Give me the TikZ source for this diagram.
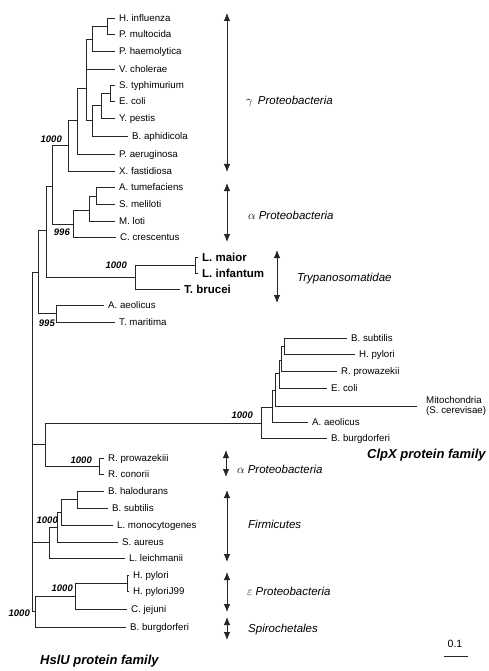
\documentclass[tikz,border=0pt]{standalone}
\usepackage{fontspec}
\setmainfont{Liberation Sans}
\usetikzlibrary{arrows.meta}
\begin{document}
\begin{tikzpicture}[x=1pt,y=-1pt,
  br/.style={line width=0.8pt, draw=black!85},
  leaf/.style={anchor=west, inner xsep=4pt, inner ysep=0pt, font=\fontsize{9.7}{10}\selectfont, text height=6.9pt, text depth=0pt},
  bleaf/.style={leaf, font=\fontsize{11.5}{12}\selectfont\bfseries, text height=8.2pt},
  mleaf/.style={anchor=west, inner xsep=9pt, inner ysep=0pt, align=left, font=\fontsize{9.7}{10}\selectfont},
  boot/.style={anchor=base east, inner sep=0pt, font=\fontsize{9.5}{10}\selectfont\bfseries\itshape},
  clade/.style={anchor=west, inner sep=0pt, font=\fontsize{11.5}{12}\selectfont\itshape, text height=8.2pt, text depth=0pt},
  cladearrow/.style={line width=0.8pt, draw=black!85, {Latex[length=8pt,width=6.5pt]}-{Latex[length=8pt,width=6.5pt]}},
  family/.style={anchor=west, inner sep=0pt, font=\fontsize{13}{14}\selectfont\bfseries\itshape}
]
\useasboundingbox (0,0) rectangle (489,671);

% ---------- internal nodes ----------
\coordinate (R) at (32,444);
\coordinate (U) at (38,272);
\coordinate (V) at (46,230);
\coordinate (GA) at (52,186);
\coordinate (G) at (68,145);
\coordinate (G1) at (77,120);
\coordinate (G2) at (86,88);
\coordinate (G3) at (92,39);
\coordinate (G4) at (107,26);
\coordinate (G5) at (92,120);
\coordinate (G6) at (101,105);
\coordinate (G7) at (110,93);
\coordinate (AL) at (73,224);
\coordinate (A1) at (89,210);
\coordinate (A2) at (96,196);
\coordinate (TR) at (135,277);
\coordinate (T1) at (195,265);
\coordinate (TH) at (56,313);
\coordinate (CR) at (45,444);
\coordinate (CX) at (261,423);
\coordinate (C5) at (272,407);
\coordinate (C4) at (275,390);
\coordinate (C3) at (279,373);
\coordinate (C2) at (281,360);
\coordinate (C1) at (284,346);
\coordinate (RK) at (99,466);
\coordinate (FI) at (49,542);
\coordinate (F1) at (57,527);
\coordinate (F2) at (61,512);
\coordinate (F3) at (77,499);
\coordinate (ES) at (35,611);
\coordinate (E1) at (75,596);
\coordinate (E2) at (127,583);

% ---------- leaves ----------
\node[leaf] (hinf) at (115,18) {H. influenza};
\node[leaf] (pmul) at (115,34) {P. multocida};
\node[leaf] (phae) at (115,51) {P. haemolytica};
\node[leaf] (vcho) at (115,69) {V. cholerae};
\node[leaf] (styp) at (115,85) {S. typhimurium};
\node[leaf] (ecog) at (115,101) {E. coli};
\node[leaf] (ypes) at (115,118) {Y. pestis};
\node[leaf] (baph) at (128,136) {B. aphidicola};
\node[leaf] (paer) at (115,154) {P. aeruginosa};
\node[leaf] (xfas) at (115,171) {X. fastidiosa};
\node[leaf] (atum) at (115,187) {A. tumefaciens};
\node[leaf] (smel) at (115,204) {S. meliloti};
\node[leaf] (mlot) at (115,221) {M. loti};
\node[leaf] (ccre) at (116,237) {C. crescentus};
\node[bleaf] (lmai) at (198,257) {L. maior};
\node[bleaf] (linf) at (198,273) {L. infantum};
\node[bleaf] (tbru) at (180,289) {T. brucei};
\node[leaf] (aaeo) at (104,305) {A. aeolicus};
\node[leaf] (tmar) at (115,322) {T. maritima};
\node[leaf] (bsub) at (347,338) {B. subtilis};
\node[leaf] (hpyl) at (355,354) {H. pylori};
\node[leaf] (rpro) at (337,371) {R. prowazekii};
\node[leaf] (ecol) at (327,388) {E. coli};
\node[mleaf] (mito) at (417,406) {Mitochondria\\(S. cerevisae)};
\node[leaf] (aaeob) at (308,422) {A. aeolicus};
\node[leaf] (bbur) at (327,438) {B. burgdorferi};
\node[leaf] (rprob) at (104,458) {R. prowazekiii};
\node[leaf] (rcon) at (104,474) {R. conorii};
\node[leaf] (bhal) at (104,491) {B. halodurans};
\node[leaf] (bsubb) at (108,508) {B. subtilis};
\node[leaf] (lmon) at (113,525) {L. monocytogenes};
\node[leaf] (saur) at (118,542) {S. aureus};
\node[leaf] (llei) at (125,558) {L. leichmanii};
\node[leaf] (hpylb) at (129,575) {H. pylori};
\node[leaf] (hpylj) at (129,591) {H. pyloriJ99};
\node[leaf] (cjej) at (127,609) {C. jejuni};
\node[leaf] (bburb) at (126,627) {B. burgdorferi};

% ---------- branches ----------
\foreach \p/\c in {R/U, R/CR, R/FI, R/ES,
  U/V, U/TH, V/GA, V/TR, GA/G, GA/AL,
  G/G1, G/xfas, G1/G2, G1/paer, G2/G3, G2/vcho, G2/G5,
  G3/G4, G3/phae, G4/hinf, G4/pmul, G5/G6, G5/baph,
  G6/G7, G6/ypes, G7/styp, G7/ecog,
  AL/A1, AL/ccre, A1/A2, A1/mlot, A2/atum, A2/smel,
  TR/T1, TR/tbru, T1/lmai, T1/linf, TH/aaeo, TH/tmar,
  CR/CX, CR/RK, CX/C5, CX/bbur, C5/C4, C5/aaeob, C4/C3, C4/mito,
  C3/C2, C3/ecol, C2/C1, C2/rpro, C1/bsub, C1/hpyl,
  RK/rprob, RK/rcon,
  FI/F1, FI/llei, F1/F2, F1/saur, F2/F3, F2/lmon, F3/bhal, F3/bsubb,
  ES/E1, ES/bburb, E1/E2, E1/cjej, E2/hpylb, E2/hpylj}
  \draw[br] (\p) |- (\c);

% ---------- bootstrap values ----------
\node[boot] (b1) at (62,143) {1000};
\node[boot] (b2) at (70,235) {996};
\node[boot] (b3) at (127,268) {1000};
\node[boot] (b4) at (55,326) {995};
\node[boot] (b5) at (253,418) {1000};
\node[boot] (b6) at (92,463) {1000};
\node[boot] (b7) at (58,523) {1000};
\node[boot] (b8) at (73,591) {1000};
\node[boot] (b9) at (30,616) {1000};

% ---------- clade ranges ----------
\coordinate (ga1) at (227,13);  \coordinate (ga2) at (227,172);
\coordinate (al1) at (227,183); \coordinate (al2) at (227,242);
\coordinate (tr1) at (277,250); \coordinate (tr2) at (277,303);
\coordinate (ar1) at (226,450); \coordinate (ar2) at (226,477);
\coordinate (fi1) at (227,490); \coordinate (fi2) at (227,562);
\coordinate (ep1) at (227,572); \coordinate (ep2) at (227,612);
\coordinate (sp1) at (227,617); \coordinate (sp2) at (227,640);
\draw[cladearrow] (ga1) -- (ga2);
\draw[cladearrow] (al1) -- (al2);
\draw[cladearrow] (tr1) -- (tr2);
\draw[cladearrow] (ar1) -- (ar2);
\draw[cladearrow] (fi1) -- (fi2);
\draw[cladearrow] (ep1) -- (ep2);
\draw[cladearrow] (sp1) -- (sp2);

\node[clade] (lga) at (246,100) {$\gamma$\hspace{5pt}Proteobacteria};
\node[clade] (lal) at (248,215) {$\alpha$\hspace{3pt}Proteobacteria};
\node[clade] (ltr) at (297,277) {Trypanosomatidae};
\node[clade] (lar) at (237,469) {$\alpha$\hspace{3pt}Proteobacteria};
\node[clade] (lfi) at (248,524) {Firmicutes};
\node[clade] (lep) at (247,591) {$\varepsilon$\hspace{3pt}Proteobacteria};
\node[clade] (lsp) at (248,628) {Spirochetales};

% ---------- family titles ----------
\node[family] (clpx) at (367,455) {ClpX protein family};
\node[family] (hslu) at (40,661) {HslU protein family};

% ---------- scale bar ----------
\coordinate (s1) at (444,656); \coordinate (s2) at (468,656);
\draw[br] (s1) -- (s2);
\node[inner sep=0pt, font=\fontsize{10.5}{11}\selectfont] (sc) at (455,644) {0.1};
\end{tikzpicture}
\end{document}
